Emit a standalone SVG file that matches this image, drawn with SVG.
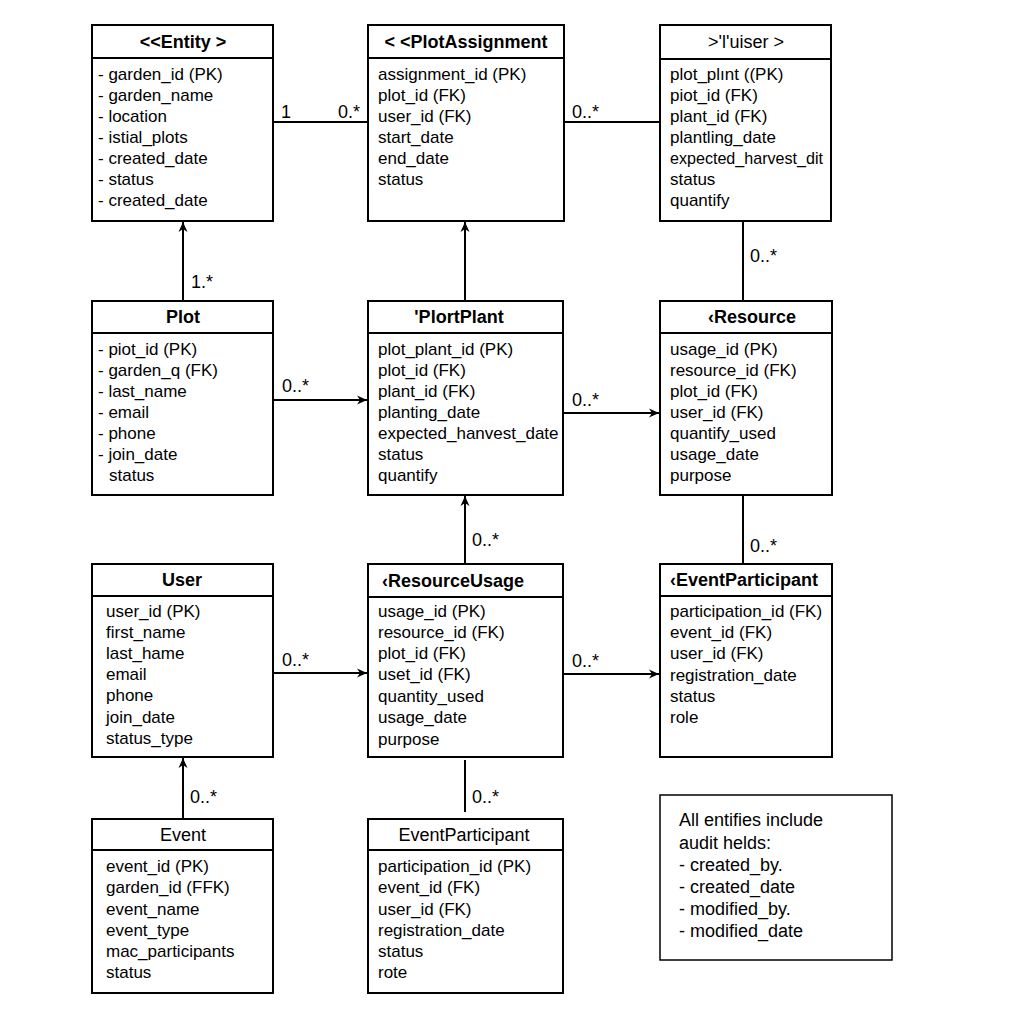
<svg xmlns="http://www.w3.org/2000/svg" width="1024" height="1024" viewBox="0 0 1024 1024">
  <defs>
    <marker id="arrow" viewBox="0 0 12 12" refX="11" refY="6" markerWidth="12" markerHeight="12" markerUnits="userSpaceOnUse" orient="auto">
      <path d="M1,1.5 L11,6 L1,10.5 L4,6 Z" fill="#000"/>
    </marker>
  </defs>
  <style>
    .box { fill: #fff; stroke: #000; stroke-width: 2; }
    .sep { stroke: #000; stroke-width: 2; }
    .title { font-family: "Liberation Sans", Arial, sans-serif; font-size: 18px; font-weight: bold; text-anchor: middle; fill: #000; }
    .title-plain { font-family: "Liberation Sans", Arial, sans-serif; font-size: 18px; text-anchor: middle; fill: #000; }
    .attr { font-family: "Liberation Sans", Arial, sans-serif; font-size: 17px; fill: #000; }
    .note { font-family: "Liberation Sans", Arial, sans-serif; font-size: 18px; fill: #000; }
    .mult { font-family: "Liberation Sans", Arial, sans-serif; font-size: 18px; fill: #000; }
    .link { stroke: #000; stroke-width: 2; fill: none; }
    .arr { marker-end: url(#arrow); }
  </style>
  <rect width="1024" height="1024" fill="#fff"/>

  <!-- relationships -->
  <g id="connectors">
    <line class="link" x1="273" y1="122" x2="368" y2="122"/>
    <line class="link" x1="564" y1="122" x2="660" y2="122"/>
    <line class="link" x1="743" y1="221" x2="743" y2="301"/>
    <line class="link arr" x1="183" y1="301" x2="183" y2="222"/>
    <line class="link arr" x1="465" y1="301" x2="465" y2="222"/>
    <line class="link arr" x1="273" y1="400" x2="367" y2="400"/>
    <line class="link arr" x1="563" y1="413" x2="659" y2="413"/>
    <line class="link" x1="743" y1="495" x2="743" y2="564"/>
    <line class="link arr" x1="465" y1="564" x2="465" y2="496"/>
    <line class="link arr" x1="273" y1="673" x2="367" y2="673"/>
    <line class="link arr" x1="563" y1="674" x2="659" y2="674"/>
    <line class="link arr" x1="183" y1="819" x2="183" y2="758"/>
    <line class="link" x1="465" y1="760" x2="465" y2="812"/>

    <text class="mult" x="281" y="118">1</text>
    <text class="mult" x="338" y="118">0.*</text>
    <text class="mult" x="572" y="118">0..*</text>
    <text class="mult" x="750" y="262">0..*</text>
    <text class="mult" x="191" y="288">1.*</text>
    <text class="mult" x="282" y="392">0..*</text>
    <text class="mult" x="572" y="406">0..*</text>
    <text class="mult" x="750" y="552">0..*</text>
    <text class="mult" x="472" y="546">0..*</text>
    <text class="mult" x="282" y="666">0..*</text>
    <text class="mult" x="572" y="667">0..*</text>
    <text class="mult" x="190" y="803">0..*</text>
    <text class="mult" x="472" y="803">0..*</text>
  </g>

  <g id="entity">
    <rect class="box" x="92" y="25" width="181" height="196"/>
    <line class="sep" x1="92" y1="58" x2="273" y2="58"/>
    <text class="title" x="183" y="48">&lt;&lt;Entity &gt;</text>
    <text class="attr" x="98" y="80">- garden_id (PK)</text>
    <text class="attr" x="98" y="101">- garden_name</text>
    <text class="attr" x="98" y="122">- location</text>
    <text class="attr" x="98" y="143">- istial_plots</text>
    <text class="attr" x="98" y="164">- created_date</text>
    <text class="attr" x="98" y="185">- status</text>
    <text class="attr" x="98" y="206">- created_date</text>
  </g>

  <g id="plot-assignment">
    <rect class="box" x="368" y="25" width="196" height="196"/>
    <line class="sep" x1="368" y1="58" x2="564" y2="58"/>
    <text class="title" x="466" y="48">&lt; &lt;PlotAssignment</text>
    <text class="attr" x="378" y="80">assignment_id (PK)</text>
    <text class="attr" x="378" y="101">plot_id (FK)</text>
    <text class="attr" x="378" y="122">user_id (FK)</text>
    <text class="attr" x="378" y="143">start_date</text>
    <text class="attr" x="378" y="164">end_date</text>
    <text class="attr" x="378" y="185">status</text>
  </g>

  <g id="plot-plant-top">
    <rect class="box" x="660" y="25" width="171" height="196"/>
    <line class="sep" x1="660" y1="59" x2="831" y2="59"/>
    <text class="title-plain" x="746" y="48">&gt;'l'uiser &gt;</text>
    <text class="attr" x="670" y="80">plot_plınt ((PK)</text>
    <text class="attr" x="670" y="101">piot_id (FK)</text>
    <text class="attr" x="670" y="122">plant_id (FK)</text>
    <text class="attr" x="670" y="143">plantling_date</text>
    <text class="attr" x="670" y="164" textLength="153" lengthAdjust="spacingAndGlyphs">expected_harvest_dit</text>
    <text class="attr" x="670" y="185">status</text>
    <text class="attr" x="670" y="206">quantify</text>
  </g>

  <g id="plot">
    <rect class="box" x="92" y="301" width="181" height="194"/>
    <line class="sep" x1="92" y1="333" x2="273" y2="333"/>
    <text class="title" x="183" y="323">Plot</text>
    <text class="attr" x="98" y="355">- piot_id (PK)</text>
    <text class="attr" x="98" y="376">- garden_q (FK)</text>
    <text class="attr" x="98" y="397">- last_name</text>
    <text class="attr" x="98" y="418">- email</text>
    <text class="attr" x="98" y="439">- phone</text>
    <text class="attr" x="98" y="460">- join_date</text>
    <text class="attr" x="109" y="481">status</text>
  </g>

  <g id="plot-plant">
    <rect class="box" x="368" y="301" width="195" height="194"/>
    <line class="sep" x1="368" y1="333" x2="563" y2="333"/>
    <text class="title" x="459" y="323">'PlortPlant</text>
    <text class="attr" x="378" y="355">plot_plant_id (PK)</text>
    <text class="attr" x="378" y="376">plot_id (FK)</text>
    <text class="attr" x="378" y="397">plant_id (FK)</text>
    <text class="attr" x="378" y="418">planting_date</text>
    <text class="attr" x="378" y="439">expected_hanvest_date</text>
    <text class="attr" x="378" y="460">status</text>
    <text class="attr" x="378" y="481">quantify</text>
  </g>

  <g id="resource">
    <rect class="box" x="660" y="301" width="172" height="194"/>
    <line class="sep" x1="660" y1="333" x2="832" y2="333"/>
    <text class="title" x="752" y="323">‹Resource</text>
    <text class="attr" x="670" y="355">usage_id (PK)</text>
    <text class="attr" x="670" y="376">resource_id (FK)</text>
    <text class="attr" x="670" y="397">plot_id (FK)</text>
    <text class="attr" x="670" y="418">user_id (FK)</text>
    <text class="attr" x="670" y="439">quantify_used</text>
    <text class="attr" x="670" y="460">usage_date</text>
    <text class="attr" x="670" y="481">purpose</text>
  </g>

  <g id="user">
    <rect class="box" x="92" y="564" width="181" height="193"/>
    <line class="sep" x1="92" y1="596" x2="273" y2="596"/>
    <text class="title" x="182" y="586">User</text>
    <text class="attr" x="106" y="617">user_id (PK)</text>
    <text class="attr" x="106" y="638">first_name</text>
    <text class="attr" x="106" y="659">last_hame</text>
    <text class="attr" x="106" y="680">email</text>
    <text class="attr" x="106" y="701">phone</text>
    <text class="attr" x="106" y="723">join_date</text>
    <text class="attr" x="106" y="744">status_type</text>
  </g>

  <g id="resource-usage">
    <rect class="box" x="368" y="564" width="195" height="193"/>
    <line class="sep" x1="368" y1="597" x2="563" y2="597"/>
    <text class="title" x="453" y="587">‹ResourceUsage</text>
    <text class="attr" x="378" y="617">usage_id (PK)</text>
    <text class="attr" x="378" y="638">resource_id (FK)</text>
    <text class="attr" x="378" y="659">plot_id (FK)</text>
    <text class="attr" x="378" y="680">uset_id (FK)</text>
    <text class="attr" x="378" y="702">quantity_used</text>
    <text class="attr" x="378" y="723">usage_date</text>
    <text class="attr" x="378" y="745">purpose</text>
  </g>

  <g id="event-participant-right">
    <rect class="box" x="660" y="564" width="172" height="193"/>
    <line class="sep" x1="660" y1="596" x2="832" y2="596"/>
    <text class="title" x="744" y="586">‹EventParticipant</text>
    <text class="attr" x="670" y="617">participation_id (FK)</text>
    <text class="attr" x="670" y="638">event_id (FK)</text>
    <text class="attr" x="670" y="659">user_id (FK)</text>
    <text class="attr" x="670" y="681">registration_date</text>
    <text class="attr" x="670" y="702">status</text>
    <text class="attr" x="670" y="723">role</text>
  </g>

  <g id="event">
    <rect class="box" x="92" y="819" width="181" height="174"/>
    <line class="sep" x1="92" y1="850" x2="273" y2="850"/>
    <text class="title-plain" x="183" y="841">Event</text>
    <text class="attr" x="106" y="872">event_id  (PK)</text>
    <text class="attr" x="106" y="893">garden_id  (FFK)</text>
    <text class="attr" x="106" y="915">event_name</text>
    <text class="attr" x="106" y="936">event_type</text>
    <text class="attr" x="106" y="957">mac_participants</text>
    <text class="attr" x="106" y="978">status</text>
  </g>

  <g id="event-participant">
    <rect class="box" x="368" y="819" width="195" height="174"/>
    <line class="sep" x1="368" y1="850" x2="563" y2="850"/>
    <text class="title-plain" x="464" y="841">EventParticipant</text>
    <text class="attr" x="378" y="872">participation_id (PK)</text>
    <text class="attr" x="378" y="893">event_id (FK)</text>
    <text class="attr" x="378" y="915">user_id (FK)</text>
    <text class="attr" x="378" y="936">registration_date</text>
    <text class="attr" x="378" y="957">status</text>
    <text class="attr" x="378" y="978">rote</text>
  </g>

  <g id="audit-note">
    <rect x="660" y="795" width="232" height="165" fill="#fff" stroke="#000" stroke-width="1.5"/>
    <text class="note" x="679" y="826">All entifies include</text>
    <text class="note" x="679" y="849">audit helds:</text>
    <text class="note" x="679" y="871">- created_by.</text>
    <text class="note" x="679" y="893">- created_date</text>
    <text class="note" x="679" y="915">- modified_by.</text>
    <text class="note" x="679" y="937">- modified_date</text>
  </g>
</svg>
